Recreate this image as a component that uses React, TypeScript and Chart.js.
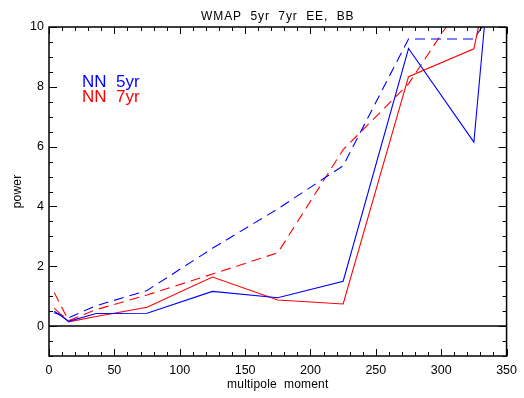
import React, { useEffect, useRef } from "react";
import { Chart, registerables } from "chart.js";

Chart.register(...registerables);

// multipole bin centres
const ells = [4, 15, 36, 75, 125, 175, 225, 275, 325, 350];
// NN 5yr (blue) and NN 7yr (red); solid and dashed curves
const blueSolid = [0.5, 0.16, 0.42, 0.43, 1.16, 0.95, 1.5, 9.28, 6.15, 18.2];
const redSolid = [0.6, 0.14, 0.32, 0.63, 1.64, 0.87, 0.74, 8.34, 9.27, 14.5];
const blueDashed = [0.45, 0.28, 0.68, 1.19, 2.6, 3.92, 5.36, 9.6, 9.6, 11.2];
const redDashed = [1.12, 0.18, 0.55, 1.04, 1.74, 2.45, 5.9, 8.1, 11.4, 13.0];
const zeroLineX = [0, 350];
const zeroLineY = [0, 0];

const xTicks = [0, 50, 100, 150, 200, 250, 300, 350];
const yTicks = [0, 2, 4, 6, 8, 10];
const xRange = [0, 350];
const yRange = [-1, 10];
const xMinorStep = 10;
const yMinorStep = 0.5;

const titleText = "WMAP  5yr  7yr  EE,  BB";
const xTitle = "multipole  moment";
const yTitle = "power";
const legendLabels = ["NN  5yr", "NN  7yr"];
const BLUE = "#0000ff";
const RED = "#ff0000";
const FONT = "'Liberation Sans', Arial, sans-serif";

const pts = (xs: number[], ys: number[]) => xs.map((x, i) => ({ x, y: ys[i] }));

const idlPlugin = {
  id: "idlFrame",
  afterDraw(chart: any) {
    const { ctx, chartArea } = chart;
    const xs = chart.scales.x;
    const ys = chart.scales.y;
    const { left, right, top, bottom } = chartArea;
    ctx.save();
    ctx.strokeStyle = "#000";
    ctx.lineWidth = 1.5;
    ctx.strokeRect(left, top, right - left, bottom - top);
    ctx.lineWidth = 1;
    ctx.beginPath();
    for (let v = xRange[0]; v <= xRange[1] + 1e-9; v += xMinorStep) {
      const major = xTicks.some((t) => Math.abs(t - v) < 1e-9);
      const len = major ? 7 : 4;
      const px = Math.round(xs.getPixelForValue(v)) + 0.5;
      ctx.moveTo(px, bottom);
      ctx.lineTo(px, bottom - len);
      ctx.moveTo(px, top);
      ctx.lineTo(px, top + len);
    }
    for (let v = yRange[0]; v <= yRange[1] + 1e-9; v += yMinorStep) {
      const major = yTicks.some((t) => Math.abs(t - v) < 1e-9);
      const len = major ? 8 : 4;
      const py = Math.round(ys.getPixelForValue(v)) + 0.5;
      ctx.moveTo(left, py);
      ctx.lineTo(left + len, py);
      ctx.moveTo(right, py);
      ctx.lineTo(right - len, py);
    }
    ctx.stroke();

    ctx.fillStyle = "#000";
    ctx.textAlign = "center";
    ctx.textBaseline = "alphabetic";
    ctx.font = `12px ${FONT}`;
    (ctx as any).letterSpacing = "0.9px";
    ctx.fillText(titleText, (left + right) / 2, 20);
    (ctx as any).letterSpacing = "0.2px";
    ctx.fillText(xTitle, (left + right) / 2, 388);
    ctx.save();
    ctx.translate(21, (top + bottom) / 2);
    ctx.rotate(-Math.PI / 2);
    ctx.fillText(yTitle, 0, 0);
    ctx.restore();
    (ctx as any).letterSpacing = "0px";
    ctx.textAlign = "left";
    ctx.font = `17px ${FONT}`;
    ctx.fillStyle = BLUE;
    ctx.fillText(legendLabels[0], 82, 87);
    ctx.fillStyle = RED;
    ctx.fillText(legendLabels[1], 82, 102);
    ctx.restore();
  },
};

export default function App() {
  const ref = useRef<HTMLCanvasElement>(null);
  useEffect(() => {
    if (!ref.current) return;
    const common = { pointRadius: 0, borderWidth: 1.1, tension: 0, fill: false };
    const chart = new Chart(ref.current, {
      type: "line",
      data: {
        datasets: [
          { ...common, data: pts(zeroLineX, zeroLineY), borderColor: "#000", borderWidth: 1.5 },
          { ...common, data: pts(ells, blueSolid), borderColor: BLUE },
          { ...common, data: pts(ells, redSolid), borderColor: RED },
          { ...common, data: pts(ells, blueDashed), borderColor: BLUE, borderDash: [10, 6] },
          { ...common, data: pts(ells, redDashed), borderColor: RED, borderDash: [10, 6] },
        ],
      },
      options: {
        animation: false,
        responsive: false,
        events: [],
        layout: { padding: { top: 27, right: 12, left: 0, bottom: 0 } },
        plugins: { legend: { display: false }, tooltip: { enabled: false }, title: { display: false } },
        scales: {
          x: {
            type: "linear",
            min: xRange[0],
            max: xRange[1],
            grid: { display: false, drawTicks: false },
            border: { display: false },
            afterBuildTicks: (s: any) => {
              s.ticks = xTicks.map((v) => ({ value: v }));
            },
            afterFit: (s: any) => {
              s.height = 42;
            },
            ticks: {
              padding: 7,
              maxRotation: 0,
              autoSkip: false,
              color: "#000",
              font: { family: FONT, size: 12.5 },
            },
          },
          y: {
            type: "linear",
            min: yRange[0],
            max: yRange[1],
            grid: { display: false, drawTicks: false },
            border: { display: false },
            afterBuildTicks: (s: any) => {
              s.ticks = yTicks.map((v) => ({ value: v }));
            },
            afterFit: (s: any) => {
              s.width = 49;
            },
            ticks: {
              padding: 5,
              autoSkip: false,
              color: "#000",
              font: { family: FONT, size: 12.5 },
            },
          },
        },
      },
      plugins: [idlPlugin],
    });
    return () => chart.destroy();
  }, []);
  return (
    <div style={{ position: "absolute", left: 0, top: 0, width: 524, height: 398, background: "#fff" }}>
      <canvas ref={ref} width={524} height={398} />
    </div>
  );
}
